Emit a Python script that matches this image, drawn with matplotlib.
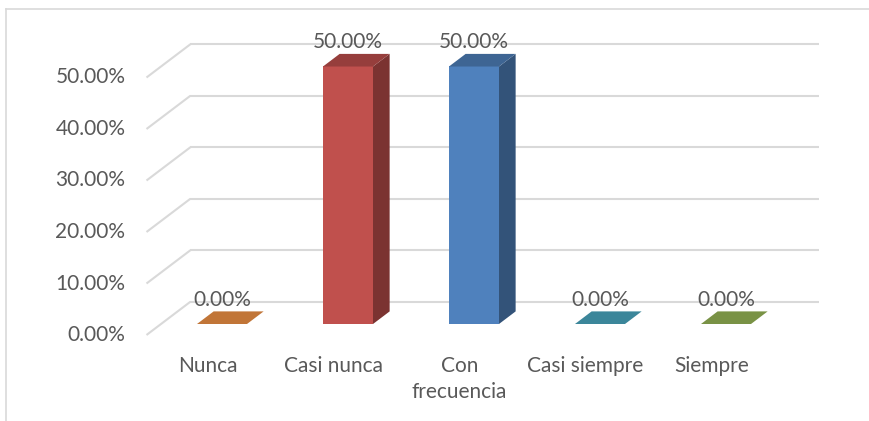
import matplotlib
matplotlib.use("Agg")
import matplotlib.pyplot as plt
from matplotlib.patches import Polygon

# Survey responses (share of respondents, %)
categories = ["Nunca", "Casi nunca", "Con\nfrecuencia", "Casi siempre", "Siempre"]
values = [0.0, 50.0, 50.0, 0.0, 0.0]
ticks = [0, 10, 20, 30, 40, 50]
tick_labels = ["0.00%", "10.00%", "20.00%", "30.00%", "40.00%", "50.00%"]

base_colors = ["#F79646", "#C0504D", "#4F81BD", "#4BACC6", "#9BBB59"]

W, H, DPI = 870, 421, 100
fig = plt.figure(figsize=(W / DPI, H / DPI), dpi=DPI)
ax = fig.add_axes([0, 0, 1, 1])

# pixel scale of the front plane: one category = 126 px, one percent = 5.15 px
PX_X, PX_Y = 126.0, 5.15
X0, Y0 = 222.0, 324.0          # pixel position of category 0, value 0
ax.set_xlim((0 - X0) / PX_X, (W - X0) / PX_X)
ax.set_ylim((Y0 - H) / PX_Y, (Y0 - 0) / PX_Y)
ax.axis("off")

SLANT = 1.32  # horizontal shift per unit of depth


def proj(x, v, d):
    """Oblique projection: depth d (px) moves a point right and up."""
    return (x + SLANT * d / PX_X, v + d / PX_Y)


def shade(hex_color, f):
    r, g, b = matplotlib.colors.to_rgb(hex_color)
    return (r * f, g * f, b * f)


GRID = "#D9D9D9"
TEXT = "#595959"
FS = 15
D_FRONT, D_BACK = -11.0, 22.3   # floor front edge and back wall depth
X_LEFT, X_RIGHT = -0.484, 4.505
BAR_W = 50.0 / PX_X
BAR_D = 12.6

# walls: back-wall gridlines and side-wall diagonals
for t in ticks:
    p1 = proj(X_LEFT, t, D_BACK)
    p2 = proj(X_RIGHT, t, D_BACK)
    ax.plot([p1[0], p2[0]], [p1[1], p2[1]], color=GRID, lw=1.5,
            solid_capstyle="butt", zorder=1)
    p0 = proj(X_LEFT, t, D_FRONT)
    ax.plot([p0[0], p1[0]], [p0[1], p1[1]], color=GRID, lw=1.5,
            solid_capstyle="butt", zorder=1)

for t, lab in zip(ticks, tick_labels):
    ax.annotate(lab, proj(X_LEFT, t, D_FRONT), xytext=(-21, 0),
                textcoords="offset pixels", ha="right", va="center",
                fontsize=FS, color=TEXT, family="Lato")

# bars: front, side and top faces
for i, (v, c) in enumerate(zip(values, base_colors)):
    xl, xr = i - BAR_W / 2, i + BAR_W / 2
    ax.bar(i, v, width=BAR_W, bottom=0, color=c, linewidth=0, zorder=3)
    side = [proj(xr, 0, 0), proj(xr, 0, BAR_D), proj(xr, v, BAR_D), proj(xr, v, 0)]
    top = [proj(xl, v, 0), proj(xl, v, BAR_D), proj(xr, v, BAR_D), proj(xr, v, 0)]
    ax.add_patch(Polygon(side, closed=True, facecolor=shade(c, 0.64),
                         edgecolor="none", zorder=3))
    ax.add_patch(Polygon(top, closed=True, facecolor=shade(c, 0.78),
                         edgecolor="none", zorder=4))
    ax.annotate(f"{v:.2f}%", (i, v), xytext=(0, 24), textcoords="offset pixels",
                ha="center", va="center", fontsize=FS, color=TEXT,
                family="Lato", zorder=5)

# category labels along the front edge of the floor
for i, cat in enumerate(categories):
    n = cat.count("\n")
    ax.annotate(cat, proj(i, 0, D_FRONT), xytext=(0, -31 - 13 * n),
                textcoords="offset pixels", ha="center", va="center",
                fontsize=FS, color=TEXT, family="Lato",
                linespacing=1.38)

# chart area border (top and left edges)
fig.add_artist(plt.Line2D([6 / W, 6 / W], [0, 1 - 9 / H], transform=fig.transFigure,
                          color="#D9D9D9", lw=1.2))
fig.add_artist(plt.Line2D([6 / W, 1], [1 - 9 / H, 1 - 9 / H], transform=fig.transFigure,
                          color="#D9D9D9", lw=1.2))

fig.savefig("out.png", dpi=DPI)
